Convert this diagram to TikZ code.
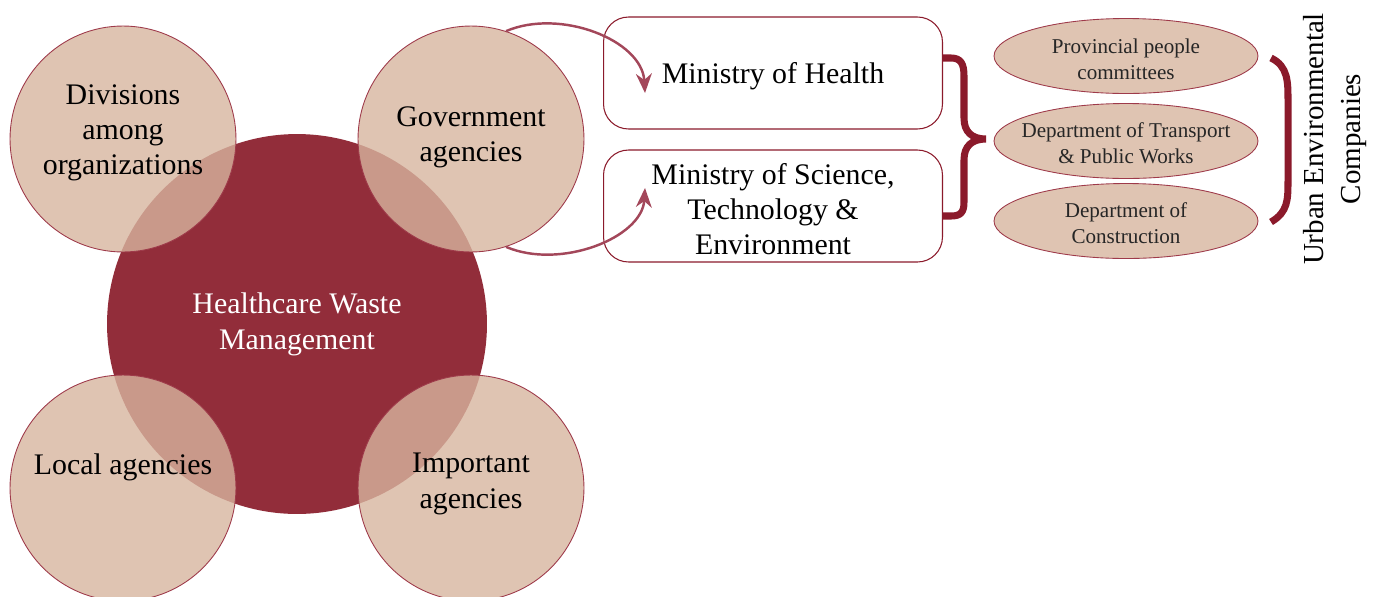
\documentclass[tikz,border=0pt]{standalone}
\usepackage{fontspec}
\setmainfont{Liberation Serif}
\usetikzlibrary{shapes.geometric,arrows.meta}
\definecolor{wine}{HTML}{922D3A}
\definecolor{sand}{HTML}{D7B59F}
\definecolor{tan}{HTML}{DFC4B2}
\definecolor{edgered}{HTML}{9E3A4A}
\definecolor{bracered}{HTML}{8B1A2B}
\definecolor{arrowred}{HTML}{A3475A}
\tikzset{
  bigcirc/.style={circle,fill=wine,minimum size=7.6cm,inner sep=0pt,text=white,align=center,font=\fontsize{17}{20.5}\selectfont},
  smallcirc/.style={circle,fill=sand,fill opacity=0.8,draw=edgered,line width=0.5pt,minimum size=4.52cm,inner sep=0pt},
  circtxt/.style={align=center,text=black,font=\fontsize{17}{20}\selectfont},
  ministry/.style={draw=bracered,line width=0.6pt,rounded corners=0.5cm,minimum width=6.78cm,minimum height=2.24cm,inner sep=0pt},
  ministrytxt/.style={align=center,font=\fontsize{17}{19.8}\selectfont},
  dept/.style={ellipse,fill=tan,draw=edgered,line width=0.5pt,minimum width=5.28cm,minimum height=1.5cm,inner sep=0pt},
  depttxt/.style={align=center,text=black!85,font=\fontsize{12}{14.8}\selectfont},
  flow/.style={arrowred,line width=1.4pt,-{Stealth[length=11pt,width=9pt]}},
  grouping/.style={bracered,line width=4pt}
}
\begin{document}
\begin{tikzpicture}[x=0.02cm,y=-0.02cm]
    \useasboundingbox (0,0) rectangle (1376,596);

    % centre and its four surrounding circles
    \node[bigcirc] (hwm) at (297,324) {Healthcare Waste\\Management};
    \node[smallcirc] (div) at (123,139) {};
    \node[smallcirc] (gov) at (471,139) {};
    \node[smallcirc] (loc) at (123,488) {};
    \node[smallcirc] (imp) at (471,488) {};
    \node[circtxt] (divtxt) at (123,133) {Divisions\\among\\organizations};
    \node[circtxt] (govtxt) at (471,137) {Government\\agencies};
    \node[circtxt] (loctxt) at (123,467) {Local agencies};
    \node[circtxt] (imptxt) at (471,484) {Important\\agencies};

    % ministries
    \node[ministry] (moh) at (773,73) {};
    \node[ministry] (most) at (773,206) {};
    \node[ministrytxt] (mohtxt) at (773,76) {Ministry of Health};
    \node[ministrytxt] (mosttxt) at (773,209) {Ministry of Science,\\Technology \&\\Environment};
    \coordinate (mohin) at (645,93);
    \coordinate (mostin) at (645,188);

    \draw[flow] (gov.72) .. controls (560,8) and (642,40) .. (mohin);
    \draw[flow] (gov.-72) .. controls (560,270) and (642,238) .. (mostin);

    % departments
    \node[dept] (ppc) at (1126,56) {};
    \node[dept] (dtpw) at (1126,141) {};
    \node[dept] (doc) at (1126,221) {};
    \node[depttxt] (ppctxt) at (1126,59) {Provincial people\\committees};
    \node[depttxt] (dtpwtxt) at (1126,143) {Department of Transport\\\& Public Works};
    \node[depttxt] (doctxt) at (1126,223) {Department of\\Construction};

    % brace and bracket
    \coordinate (bracetop) at (943,58);
    \coordinate (bracebot) at (943,216);
    \draw[grouping] (bracetop) -- (951,58) .. controls (961,58) and (964,64) .. (964,76)
        -- (964,118) .. controls (964,132) and (972,139) .. (986,139)
        .. controls (972,139) and (964,146) .. (964,160)
        -- (964,202) .. controls (964,212) and (961,216) .. (951,216) -- (bracebot);

    \coordinate (parentop) at (1271,58);
    \coordinate (parenbot) at (1271,222);
    \draw[grouping] (parentop) .. controls (1288,66) and (1288,82) .. (1288,100)
        -- (1288,180) .. controls (1288,200) and (1288,212) .. (parenbot);

    \node[rotate=90,align=center,font=\fontsize{16.5}{21}\selectfont] (uec) at (1335,139) {Urban Environmental\\Companies};
\end{tikzpicture}
\end{document}
